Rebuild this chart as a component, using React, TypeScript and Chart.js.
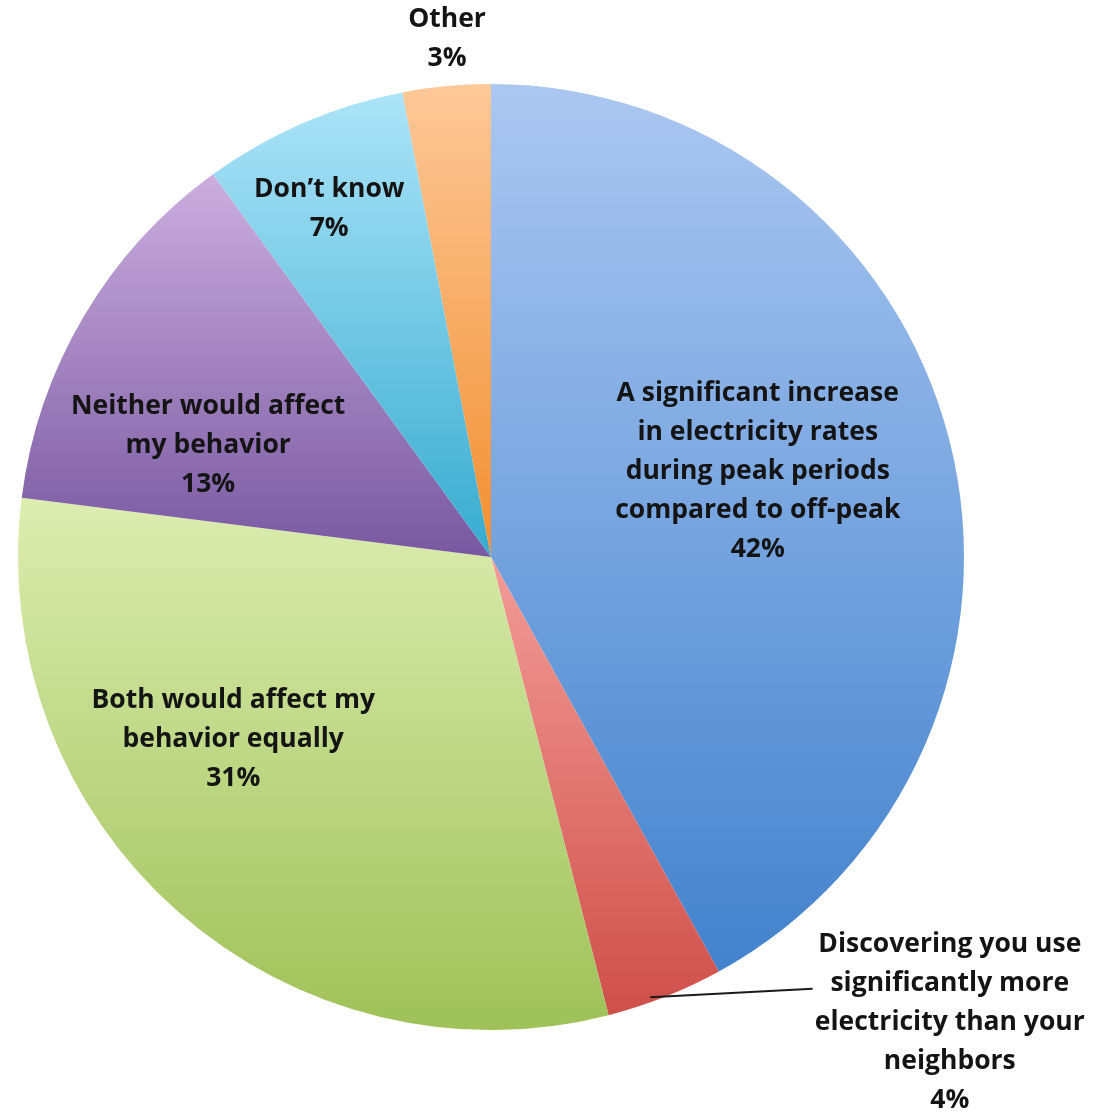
import React, { useEffect, useRef } from "react";
import { Chart, registerables } from "chart.js";

Chart.register(...registerables);

// ---- data ----
const categories = [
  "A significant increase in electricity rates during peak periods compared to off-peak",
  "Discovering you use significantly more electricity than your neighbors",
  "Both would affect my behavior equally",
  "Neither would affect my behavior",
  "Don’t know",
  "Other",
];
const categoryLines = [
  ["A significant increase", "in electricity rates", "during peak periods", "compared to off-peak"],
  ["Discovering you use", "significantly more", "electricity than your", "neighbors"],
  ["Both would affect my", "behavior equally"],
  ["Neither would affect", "my behavior"],
  ["Don’t know"],
  ["Other"],
];
const values = [42, 4, 31, 13, 7, 3];

// ---- styles ----
const topColors = ["#abc7f1", "#f39c98", "#dcedb0", "#cbaedf", "#ace4f8", "#fdc898"];
const bottomColors = ["#4282cd", "#cf4f49", "#9fc158", "#7858a0", "#36abcf", "#f18f30"];
// label centre positions as fractions of the radius from the pie centre
const labelPos = [
  [0.564, -0.18],
  [0.97, 0.983],
  [-0.545, 0.385],
  [-0.598, -0.235],
  [-0.342, -0.736],
  [-0.093, -1.095],
];
const leaderEnd = [0.68, 0.913]; // for the outside label (index 1)
const FONT = "700 26.5px 'Open Sans', Lato, sans-serif";
const LINE_H = 39;

function sliceBounds(chart: any, index: number) {
  const area = chart.chartArea;
  const cx = (area.left + area.right) / 2;
  const cy = (area.top + area.bottom) / 2;
  const r = Math.min(area.right - area.left, area.bottom - area.top) / 2;
  const data: number[] = chart.data.datasets[0].data;
  const total = data.reduce((a, b) => a + b, 0);
  let cum = 0;
  for (let i = 0; i < index; i++) cum += data[i];
  const a0 = -Math.PI / 2 + (cum / total) * 2 * Math.PI;
  const a1 = a0 + (data[index] / total) * 2 * Math.PI;
  let ymin = cy, ymax = cy;
  const steps = 60;
  for (let s = 0; s <= steps; s++) {
    const a = a0 + ((a1 - a0) * s) / steps;
    const y = cy + r * Math.sin(a);
    ymin = Math.min(ymin, y);
    ymax = Math.max(ymax, y);
  }
  return { ymin, ymax };
}

const labelPlugin = {
  id: "sliceLabels",
  afterDatasetsDraw(chart: any) {
    const ctx = chart.ctx;
    const meta = chart.getDatasetMeta(0);
    const arc0: any = meta.data[0];
    if (!arc0) return;
    const cx = arc0.x, cy = arc0.y, r = arc0.outerRadius;
    ctx.save();
    ctx.font = FONT;
    ctx.fillStyle = "#141414";
    ctx.textAlign = "center";
    ctx.textBaseline = "middle";
    values.forEach((v, i) => {
      const lines = [...categoryLines[i], `${v}%`];
      const x = cx + labelPos[i][0] * r;
      const y = cy + labelPos[i][1] * r;
      const y0 = y - ((lines.length - 1) * LINE_H) / 2;
      lines.forEach((t, k) => ctx.fillText(t, x, y0 + k * LINE_H));
    });
    // leader line for the small outside label
    const arc: any = meta.data[1];
    const mid = (arc.startAngle + arc.endAngle) / 2 + 0.03;
    const sx = cx + Math.cos(mid) * r * 0.99;
    const sy = cy + Math.sin(mid) * r * 0.99;
    ctx.beginPath();
    ctx.strokeStyle = "#1a1a1a";
    ctx.lineWidth = 2;
    ctx.moveTo(sx, sy);
    ctx.lineTo(cx + leaderEnd[0] * r, cy + leaderEnd[1] * r);
    ctx.stroke();
    ctx.restore();
  },
};

export default function App() {
  const ref = useRef<HTMLCanvasElement>(null);
  useEffect(() => {
    if (!ref.current) return;
    const chart = new Chart(ref.current, {
      type: "pie",
      data: {
        labels: categories,
        datasets: [
          {
            data: values,
            borderWidth: 0,
            backgroundColor: (c: any) => {
              const chart = c.chart;
              if (!chart.chartArea) return topColors[c.dataIndex];
              const { ymin, ymax } = sliceBounds(chart, c.dataIndex);
              const g = chart.ctx.createLinearGradient(0, ymin, 0, ymax);
              g.addColorStop(0, topColors[c.dataIndex]);
              g.addColorStop(1, bottomColors[c.dataIndex]);
              return g;
            },
          },
        ],
      },
      options: {
        responsive: false,
        animation: false,
        devicePixelRatio: 1,
        layout: { padding: { left: 18, top: 84, right: 129, bottom: 82 } },
        plugins: {
          legend: { display: false },
          tooltip: { enabled: false },
        },
      },
      plugins: [labelPlugin],
    });
    return () => chart.destroy();
  }, []);
  return (
    <div style={{ position: "absolute", left: 0, top: 0, width: 1093, height: 1112, background: "#fff" }}>
      <canvas ref={ref} width={1093} height={1112} style={{ display: "block" }} />
    </div>
  );
}
